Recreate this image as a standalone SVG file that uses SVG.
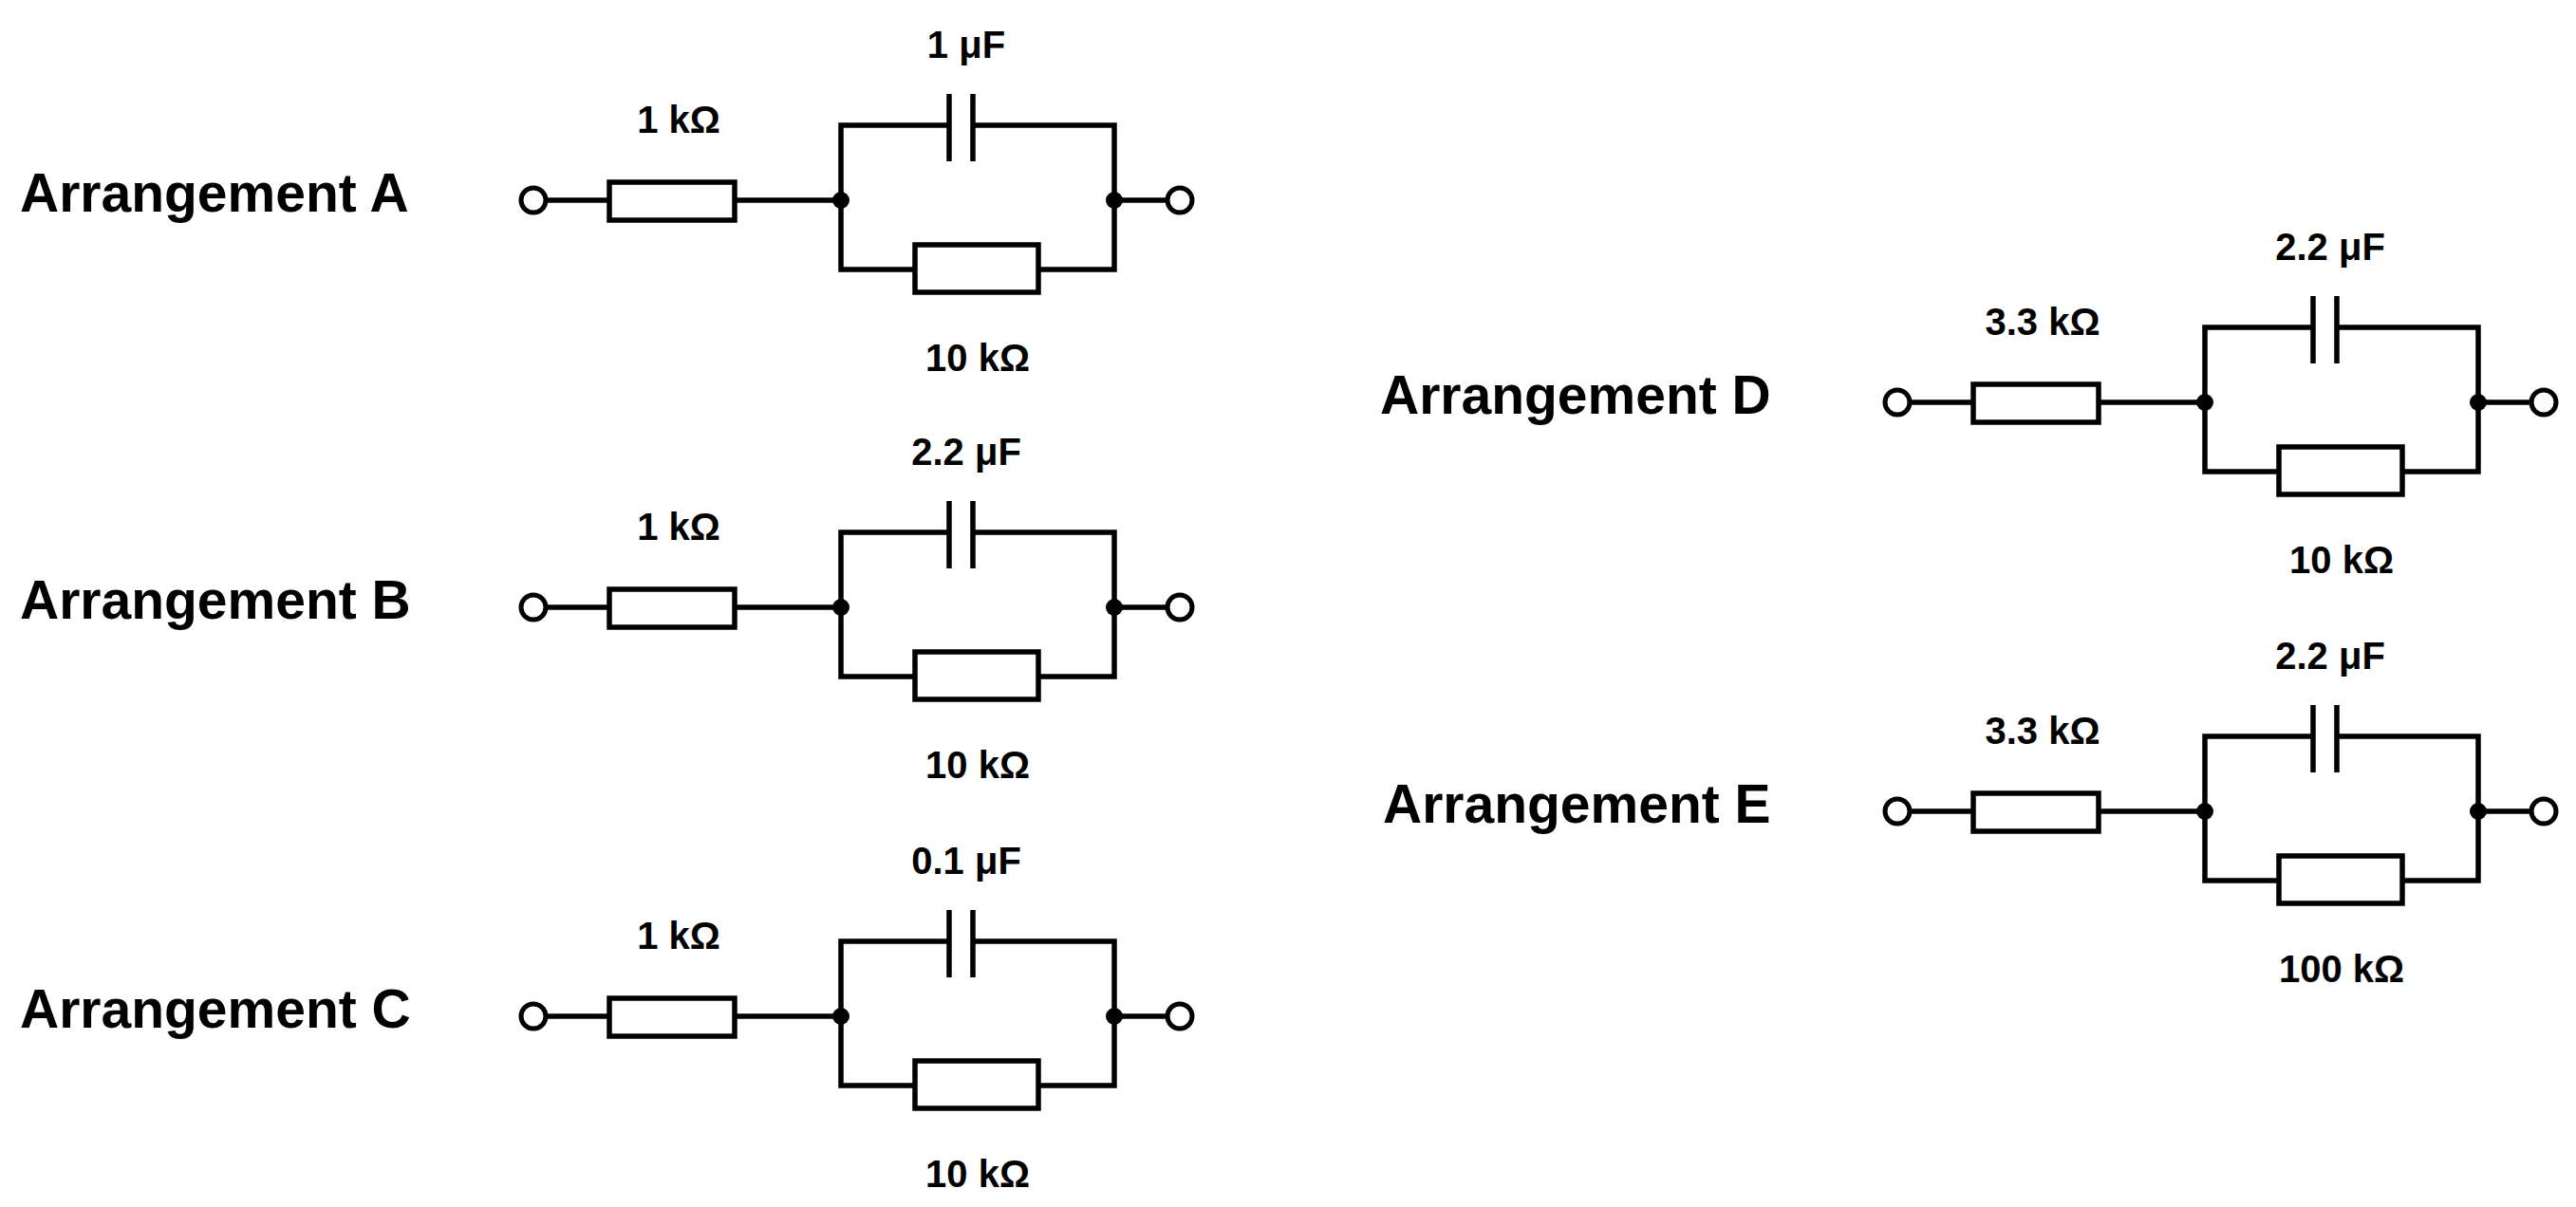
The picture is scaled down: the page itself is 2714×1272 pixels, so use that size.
<svg xmlns="http://www.w3.org/2000/svg" width="2714" height="1272" viewBox="0 0 2714 1272">
<style>
.w{fill:none;stroke:#000;stroke-width:5.5}
.t{fill:#fff;stroke:#000;stroke-width:5}
.d{fill:#000}
.lb{font-family:"Liberation Sans",Arial,sans-serif;font-weight:bold;font-size:40px;text-anchor:middle}
.ti{font-family:"Liberation Sans",Arial,sans-serif;font-weight:bold;font-size:57px}
</style>
<defs>
<g id="circ">
<path class="w" d="M576,211H642M774,211H886M1174,211H1229M886,211V132H1000M1025,132H1174V211M886,211V284H964M1094,284H1174V211M1000,99V170M1025,99V170"/>
<rect class="w" x="642" y="192" width="132" height="40"/>
<rect class="w" x="964" y="258" width="130" height="50"/>
<circle class="t" cx="562" cy="211" r="13"/>
<circle class="t" cx="1243" cy="211" r="13"/>
<circle class="d" cx="886" cy="211" r="9"/>
<circle class="d" cx="1174" cy="211" r="9"/>
</g>
</defs>
<g id="A">
<text class="ti" x="21" y="223">Arrangement A</text>
<use href="#circ"/>
<text class="lb" x="715" y="140">1 kΩ</text>
<text class="lb" x="1018" y="61">1 μF</text>
<text class="lb" x="1030" y="391">10 kΩ</text>
</g>
<g id="B">
<text class="ti" x="21" y="652">Arrangement B</text>
<use href="#circ" y="429"/>
<text class="lb" x="715" y="569">1 kΩ</text>
<text class="lb" x="1018" y="490">2.2 μF</text>
<text class="lb" x="1030" y="820">10 kΩ</text>
</g>
<g id="C">
<text class="ti" x="21" y="1083">Arrangement C</text>
<use href="#circ" y="860"/>
<text class="lb" x="715" y="1000">1 kΩ</text>
<text class="lb" x="1018" y="921">0.1 μF</text>
<text class="lb" x="1030" y="1251">10 kΩ</text>
</g>
<g id="D">
<text class="ti" x="1454" y="436">Arrangement D</text>
<use href="#circ" x="1437" y="213"/>
<text class="lb" x="2152" y="353">3.3 kΩ</text>
<text class="lb" x="2455" y="274">2.2 μF</text>
<text class="lb" x="2467" y="604">10 kΩ</text>
</g>
<g id="E">
<text class="ti" x="1457" y="867">Arrangement E</text>
<use href="#circ" x="1437" y="644"/>
<text class="lb" x="2152" y="784">3.3 kΩ</text>
<text class="lb" x="2455" y="705">2.2 μF</text>
<text class="lb" x="2467" y="1035">100 kΩ</text>
</g>
</svg>
